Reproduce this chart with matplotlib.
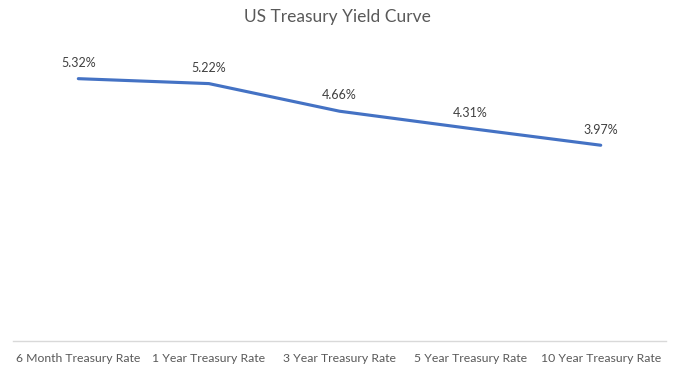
import matplotlib
matplotlib.use('Agg')
import matplotlib.pyplot as plt

categories = ['6 Month Treasury Rate', '1 Year Treasury Rate', '3 Year Treasury Rate',
              '5 Year Treasury Rate', '10 Year Treasury Rate']
yields = [5.32, 5.22, 4.66, 4.31, 3.97]

plt.rcParams['font.family'] = ['Lato', 'DejaVu Sans']

fig = plt.figure(figsize=(6.75, 3.7), dpi=100)
ax = fig.add_axes([0.0193, 0.0784, 0.9674, 0.7996])

x = list(range(len(categories)))
ax.plot(x, yields, color='#4472C4', linewidth=2.25, solid_capstyle='round')

for xi, v in zip(x, yields):
    ax.annotate(f'{v:.2f}%', (xi, v), xytext=(0, 7), textcoords='offset points',
                ha='center', va='bottom', fontsize=9, color='#404040')

ax.set_xlim(-0.5, len(categories) - 0.5)
ax.set_ylim(0, 6)
ax.set_xticks(x)
ax.set_xticklabels(categories, fontsize=8.8, color='#595959')
ax.tick_params(axis='x', length=0, pad=9)
ax.set_yticks([])
for side in ['top', 'right', 'left']:
    ax.spines[side].set_visible(False)
ax.spines['bottom'].set_color('#d9d9d9')
ax.spines['bottom'].set_linewidth(1)

fig.text(0.5, 0.955, 'US Treasury Yield Curve', ha='center', va='center',
         fontsize=12.5, color='#595959')

fig.savefig('out.png', dpi=100)
